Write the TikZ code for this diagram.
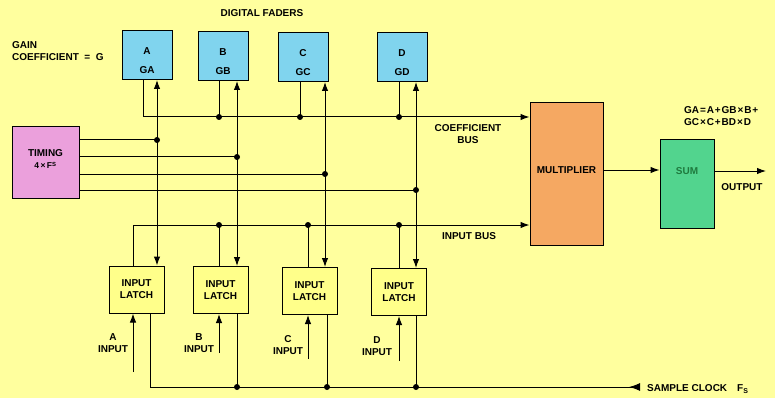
\documentclass[tikz,border=0pt]{standalone}
\usepackage{fontspec}
\setmainfont{Liberation Sans}
\usetikzlibrary{positioning,arrows.meta}
\definecolor{bgyel}{HTML}{FFFF9E}
\definecolor{fadercol}{HTML}{80D4EE}
\definecolor{latchcol}{HTML}{FFFF8A}
\definecolor{timcol}{HTML}{EBA0DC}
\definecolor{multcol}{HTML}{F5A862}
\definecolor{sumcol}{HTML}{52D48E}
\definecolor{sumtxt}{HTML}{1F7A3E}
\newcommand{\opsp}{\kern0.9pt}
\tikzset{
  wire/.style   = {line width=1pt},
  arr/.style    = {wire, -{Latex[length=9pt,width=6.5pt]}},
  darr/.style   = {wire, {Latex[length=9pt,width=6.5pt]}-{Latex[length=9pt,width=6.5pt]}},
  rarr/.style   = {wire, -{Latex[length=11pt,width=8pt,reversed]}},
  bdot/.style   = {circle, fill=black, inner sep=0pt, minimum size=6pt},
  blk/.style    = {draw, line width=1pt, align=center, inner sep=2pt,
                   font=\bfseries\fontsize{10}{12}\selectfont},
  fader/.style  = {blk, fill=fadercol, minimum width=50pt, minimum height=49pt},
  latch/.style  = {blk, fill=latchcol, minimum width=55pt, minimum height=47pt},
  lbl/.style    = {font=\bfseries\fontsize{10}{12}\selectfont, inner sep=1pt, align=center},
}
\begin{document}
\begin{tikzpicture}[x=1pt,y=-1pt]
  \fill[bgyel] (0,0) rectangle (775,398);
  \useasboundingbox (0,0) rectangle (775,398);
  \node[fader] (fA) at (147,55) {\mbox{}\\[7pt]A\\[7pt]GA};
  \node[fader] (fB) at (223,56) {\mbox{}\\[7pt]B\\[7pt]GB};
  \node[fader] (fC) at (303,57) {\mbox{}\\[7pt]C\\[7pt]GC};
  \node[fader] (fD) at (402,57) {\mbox{}\\[7pt]D\\[7pt]GD};
  \node[latch] (lA) at (136.5,289.5) {INPUT\\LATCH};
  \node[latch] (lB) at (220.5,290) {INPUT\\LATCH};
  \node[latch] (lC) at (309.5,291) {INPUT\\LATCH};
  \node[latch] (lD) at (399,292) {INPUT\\LATCH};
  \node[blk, fill=timcol, minimum width=67pt, minimum height=71pt] (tim) at (45.5,162.5)
    {TIMING\\[0pt]{\fontsize{8.5}{10}\selectfont 4\,×\,F\textsuperscript{S}}\\[-6pt]\mbox{}};
  \node[blk, fill=multcol, minimum width=73pt, minimum height=142pt] (mult) at (566.5,174) {MULTIPLIER\\[-4pt]\mbox{}};
  \node[blk, fill=sumcol, minimum width=54pt, minimum height=88pt, text=sumtxt] (sum) at (687,184) {SUM\\[14pt]\mbox{}};
  \coordinate (cA) at (143,117);
  \coordinate (cB) at (219,117);
  \coordinate (cC) at (300,117);
  \coordinate (cD) at (399,117);
  \coordinate (tA) at (157,140);
  \coordinate (tB) at (237,157);
  \coordinate (tC) at (325,174);
  \coordinate (tD) at (416,190);
  \coordinate (iA) at (133,225);
  \coordinate (iB) at (219,225);
  \coordinate (iC) at (308,225);
  \coordinate (iD) at (399,225);
  \coordinate (pA) at (133,372);
  \coordinate (pB) at (219,353);
  \coordinate (pC) at (308,359);
  \coordinate (pD) at (399,361);
  \coordinate (sA) at (150,387);
  \coordinate (sB) at (237,387);
  \coordinate (sC) at (327,387);
  \coordinate (sD) at (416,387);
  \coordinate (sclk) at (640,387);
  \coordinate (mo) at (603,170);
  \coordinate (out) at (766,171);
  \draw[arr] (fA.south -| cA) |- (mult.west |- cA);
  \draw[wire] (fB.south -| cB) -- (cB);
  \draw[wire] (fC.south -| cC) -- (cC);
  \draw[wire] (fD.south -| cD) -- (cD);
  \draw[darr] (lA.north -| tA) -- (fA.south -| tA);
  \draw[darr] (lB.north -| tB) -- (fB.south -| tB);
  \draw[darr] (lC.north -| tC) -- (fC.south -| tC);
  \draw[darr] (lD.north -| tD) -- (fD.south -| tD);
  \draw[wire] (tim.east |- tA) -- (tA);
  \draw[wire] (tim.east |- tB) -- (tB);
  \draw[wire] (tim.east |- tC) -- (tC);
  \draw[wire] (tim.east |- tD) -- (tD);
  \draw[arr] (lA.north -| iA) |- (mult.west |- iA);
  \draw[wire] (iB) -- (lB.north -| iB);
  \draw[wire] (iC) -- (lC.north -| iC);
  \draw[wire] (iD) -- (lD.north -| iD);
  \draw[arr] (pA) -- (lA.south -| pA);
  \draw[arr] (pB) -- (lB.south -| pB);
  \draw[arr] (pC) -- (lC.south -| pC);
  \draw[arr] (pD) -- (lD.south -| pD);
  \draw[rarr] (lA.south -| sA) |- (sclk);
  \draw[wire] (lB.south -| sB) -- (sB);
  \draw[wire] (lC.south -| sC) -- (sC);
  \draw[wire] (lD.south -| sD) -- (sD);
  \draw[arr] (mult.east |- mo) -- (sum.west |- mo);
  \draw[arr] (sum.east |- out) -- (out);
  \node[bdot] (dcB) at (cB) {};
  \node[bdot] (dcC) at (cC) {};
  \node[bdot] (dcD) at (cD) {};
  \node[bdot] (dtA) at (tA) {};
  \node[bdot] (dtB) at (tB) {};
  \node[bdot] (dtC) at (tC) {};
  \node[bdot] (dtD) at (tD) {};
  \node[bdot] (diB) at (iB) {};
  \node[bdot] (diC) at (iC) {};
  \node[bdot] (diD) at (iD) {};
  \node[bdot] (dsB) at (sB) {};
  \node[bdot] (dsC) at (sC) {};
  \node[bdot] (dsD) at (sD) {};
  \node[lbl] (faders) at (262,13) {DIGITAL FADERS};
  \node[lbl, anchor=west, align=left] (gain) at (11,51) {GAIN\\COEFFICIENT\ \ =\ \ G};
  \node[lbl] (cbus) at (468,134) {COEFFICIENT\\BUS};
  \node[lbl] (ibus) at (469,236) {INPUT BUS};
  \node[lbl, anchor=west, align=left] (form) at (683,116)
    {GA\opsp=\opsp A\opsp+\opsp GB\opsp×\opsp B\opsp+\\GC\opsp×\opsp C\opsp+\opsp BD\opsp×\opsp D};
  \node[lbl] (outl) at (742,187) {OUTPUT};
  \node[lbl, anchor=west] (clk) at (646,389) {SAMPLE CLOCK\quad F\textsubscript{S}};
  \node[lbl] (inA) at (113,343) {A\\INPUT};
  \node[lbl] (inB) at (199,343) {B\\INPUT};
  \node[lbl] (inC) at (288,345) {C\\INPUT};
  \node[lbl] (inD) at (377,346) {D\\INPUT};
\end{tikzpicture}
\end{document}
